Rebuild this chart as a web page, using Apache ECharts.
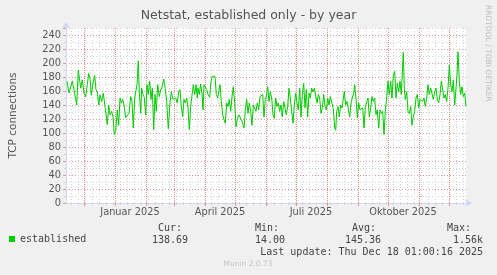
<!DOCTYPE html>
<html><head><meta charset="utf-8">
<script src="https://cdn.jsdelivr.net/npm/echarts@6/dist/echarts.min.js"></script>
<style>html,body{margin:0;padding:0;background:#F0F0F0}#c{width:497px;height:275px}</style>
</head><body><div id="c"></div>
<script>
const chartTitle = 'Netstat, established only - by year';
const yAxisName = 'TCP connections';
const seriesName = 'established';
const monthNames = ['Januar','Februar','März','April','Mai','Juni','Juli','August','September','Oktober','November','Dezember'];
const labelMonths = [[2025, 0], [2025, 3], [2025, 6], [2025, 9]];
const yTickLabels = [0, 20, 40, 60, 80, 100, 120, 140, 160, 180, 200, 220, 240];
const statHeaders = ['Cur:', 'Min:', 'Avg:', 'Max:'];
const statValues = ['138.69', '14.00', '145.36', '1.56k'];
const lastUpdate = 'Last update: Thu Dec 18 01:00:16 2025';
const creditText = 'Munin 2.0.73';
const sideText = 'RRDTOOL / TOBI OETIKER';
const endTime = Date.UTC(2025, 11, 18, 1, 0, 16);
const spanDays = 400;
const firstMonday = Date.UTC(2024, 10, 18);

// day offsets from the start of the 400-day window
const dayOffsets = [
 1,3,4.7,6.3,8,9.7,10.7,12.3,13.7,14.7,16.3,18,19.7,21.3,22.7,24,25.3,26.7,28.7,30,
 31.3,32.7,34,35.7,37.3,39,40.3,41.3,42.7,44,45.7,47,48.3,49.7,51.3,52.7,54,55.3,56.7,58,
 59.7,61.3,63,64.7,66,67.3,68.7,70,71,72.3,73.3,74.7,75.7,77,78.3,79.7,81,82.3,83.7,85,
 86.3,87.7,89,90.3,91.7,93.3,94.7,96,97.7,99,100.7,102.3,104,105.3,107,108.3,109.7,111.3,112.7,114,
 115.3,116.7,118,119.3,120.7,122,123.3,124.7,126,127.3,128.7,130,131.3,
 132,133.3,134.7,136,137,138,139.3,140.7,142,143.7,145,146.3,147.7,149,150.3,151.7,153,154,155.3,156.7,
 158,159.3,160.7,162,163.3,164.7,166,167.3,168.7,170,171.3,172.7,174,175.3,176.7,178,179.3,180.7,182,183.3,
 184.7,186,187.3,188.7,190,191.3,192.7,194,195.3,196.7,198,199.3,200.3,201.7,203,204.3,205.7,207,208.3,209.7,
 211,212.3,213.7,215,216.3,217.7,219,220.3,221.7,223,224.3,225.7,227,228.3,229.7,231,232.3,233.7,235,236.3,
 237.7,239,240.3,241.7,243,244.3,245.7,247,248.3,249.7,251,252.3,253.7,255,256.3,257.7,259,260.3,261.7,263,
 264.3,265.7,
 267.3,268.7,269.7,270.7,272,273.3,274.7,276,277.3,278.3,279.7,281,282.3,283.7,285,286.3,287.7,288.7,290,291.3,
 292.7,294,295.3,296.7,298,299.3,300.7,302,303.3,304.7,306,307.3,308.7,310,311.3,312.7,314,315.3,316.7,318,
 319.3,320.7,322,323.3,324.7,326,327.3,328.7,330,331.3,332.7,334,335.3,336.7,337.3,338.3,339.3,340.7,342,343.3,
 344.7,346,347.3,348.7,350,351.3,352.7,354,355.3,356.7,358,359.3,360.7,362,363.3,364.7,366,367.3,368.7,370,
 371.3,372.7,374,375.3,376.7,378,379.3,380.7,382,383.3,384.7,386,387.3,388.7,390,391,392,393.3,394.7,396,
 397.3,398.7,400
];
const connections = [
 174,157,159,174,162,164,140,190,192,164,176,157,152,169,185,178,154,169,182,162,
 159,140,154,145,157,138,140,112,140,126,131,123,98,102,133,111,150,143,148,140,
 122,123,128,152,145,107,150,148,169,203,159,128,164,155,151,126,169,155,174,148,
 164,105,155,131,169,152,162,165,177,166,145,106,143,159,148,148,150,143,159,162,
 138,123,148,143,150,136,105,138,140,169,155,169,150,
 164,155,170,157,133,169,170,162,155,151,174,181,179,181,155,150,150,169,145,126,
 119,114,143,138,148,131,152,166,143,109,119,126,123,119,114,107,133,148,128,143,
 131,111,140,138,131,143,133,152,150,155,123,148,152,166,145,159,150,126,121,150,
 138,143,131,140,123,145,143,126,138,164,150,131,114,140,157,143,133,164,123,155,
 171,136,162,123,157,150,164,159,164,166,143,155,150,128,136,155,138,133,150,140,
 152,152,
 135,107,104,131,138,123,140,136,138,159,140,145,143,123,143,150,157,169,150,122,
 143,133,131,136,107,138,136,150,123,136,152,145,150,126,133,107,133,128,131,98,
 131,150,174,155,174,150,183,188,150,171,159,174,155,197,215,164,148,159,131,128,
 138,111,123,131,150,155,136,148,150,145,150,138,150,169,155,164,162,148,159,164,
 148,143,155,174,176,150,155,145,164,197,169,159,176,140,164,183,216,174,155,166,
 152,157,138
];

const DAY = 86400000;
const startTime = endTime - spanDays * DAY;
const lineData = dayOffsets.map((d, i) => [startTime + d * DAY, connections[i]]);

// calendar-based grid positions (month starts, Mondays, mid-month label anchors)
const monthStarts = [];
for (let y = 2024; y <= 2025; y++) for (let m = 0; m < 12; m++) {
  const t = Date.UTC(y, m, 1);
  if (t > startTime && t < endTime) monthStarts.push(t);
}
const mondays = [];
for (let t = firstMonday; t < endTime; t += 7 * DAY) mondays.push(t);
const labelAnchors = labelMonths.map(([y, m]) => Date.UTC(y, m, 1) + 15 * DAY);

const AXIS_C = '#CFD6F8';
const MAJOR_C = '#E49494';
const MINOR_C = '#D4D4D4';
const TEXT_C = '#555555';
const SANS = '"DejaVu Sans", sans-serif';
const MONO = '"DejaVu Sans Mono", monospace';
const dotted = [1, 2];
const majorDotted = [1, 1];

function monthLabel(v) {
  const dt = new Date(v - 15 * DAY);
  return monthNames[dt.getUTCMonth()] + ' ' + dt.getUTCFullYear();
}

const chart = echarts.init(document.getElementById('c'), null, {renderer: 'canvas'});
const headerX = [158, 255, 352, 447];
const valueX = [152, 255, 345, 453];
const graphics = [
  {type: 'text', x: 488, y: 5, rotation: -Math.PI / 2,
   style: {text: sideText, fill: '#BDBDBD', font: '7.5px ' + SANS, align: 'left', verticalAlign: 'middle'}},
  {type: 'text', x: 483, y: 252,
   style: {text: lastUpdate, fill: '#444', font: '10px ' + MONO, align: 'right', verticalAlign: 'middle'}},
  {type: 'text', x: 248, y: 264,
   style: {text: creditText, fill: '#C4C4C4', font: '7.5px ' + SANS, align: 'center', verticalAlign: 'middle'}}
];
statHeaders.forEach((t, i) => graphics.push({type: 'text', x: headerX[i], y: 228,
  style: {text: t, fill: '#444', font: '10px ' + MONO, align: 'left', verticalAlign: 'middle'}}));
statValues.forEach((t, i) => graphics.push({type: 'text', x: valueX[i], y: 240,
  style: {text: t, fill: '#444', font: '10px ' + MONO, align: 'left', verticalAlign: 'middle'}}));

chart.setOption({
  animation: false,
  backgroundColor: '#F0F0F0',
  title: {text: chartTitle, left: 'center', top: 9, padding: 0,
    textStyle: {fontFamily: SANS, fontSize: 12.5, fontWeight: 'normal', color: TEXT_C}},
  legend: {data: [seriesName], left: 9, top: 234, padding: 0, icon: 'rect', itemWidth: 6, itemHeight: 6,
    textStyle: {fontFamily: MONO, fontSize: 10, color: '#444'}},
  grid: {left: 66, right: 31, top: 28, bottom: 72, containLabel: false, outerBoundsMode: 'none',
    show: true, backgroundColor: '#FFFFFF', borderWidth: 0},
  xAxis: [
    {type: 'value', position: 'bottom', min: startTime, max: endTime, scale: true,
      axisLine: {show: false, onZero: false},
      axisTick: {show: true, length: 2, customValues: mondays, lineStyle: {color: MINOR_C}},
      axisLabel: {show: false},
      splitLine: {show: true, lineStyle: {color: MINOR_C, type: dotted, width: 1}}},
    {type: 'value', position: 'bottom', min: startTime, max: endTime, scale: true,
      axisLine: {show: true, onZero: false, lineStyle: {color: AXIS_C, width: 1},
        symbol: ['none', 'arrow'], symbolSize: [6, 7], symbolOffset: [0, 6]},
      axisTick: {show: true, length: 3, customValues: monthStarts, lineStyle: {color: MAJOR_C}},
      axisLabel: {show: true, customValues: labelAnchors, hideOverlap: false, margin: 4,
        fontFamily: SANS, fontSize: 9.8, color: TEXT_C, formatter: monthLabel},
      splitLine: {show: true, lineStyle: {color: MAJOR_C, type: majorDotted, width: 1}}}
  ],
  yAxis: [
    {type: 'value', position: 'left', min: 0, max: 250, interval: 10,
      name: yAxisName, nameLocation: 'middle', nameGap: 47,
      nameTextStyle: {fontFamily: SANS, fontSize: 10.5, color: TEXT_C},
      axisLine: {show: true, lineStyle: {color: AXIS_C, width: 1},
        symbol: ['none', 'arrow'], symbolSize: [6, 7], symbolOffset: [0, 6]},
      axisTick: {show: true, length: 2, lineStyle: {color: MINOR_C}},
      axisLabel: {margin: 5, fontFamily: SANS, fontSize: 9.8, color: TEXT_C,
        formatter: v => yTickLabels.indexOf(v) >= 0 ? String(v) : ''},
      splitLine: {show: true, lineStyle: {color: [MAJOR_C, MINOR_C], type: dotted, width: 1}}},
    {type: 'value', position: 'left', min: 0, max: 250, interval: 20,
      axisLine: {show: false}, axisLabel: {show: false}, splitLine: {show: false},
      axisTick: {show: true, length: 3, lineStyle: {color: MAJOR_C}}}
  ],
  series: [
    {name: seriesName, type: 'line', xAxisIndex: 1, yAxisIndex: 0,
      data: lineData, showSymbol: false, symbol: 'none', z: 10,
      lineStyle: {color: '#00CC00', width: 1}, itemStyle: {color: '#00CC00'}}
  ],
  graphic: graphics
});
</script></body></html>
